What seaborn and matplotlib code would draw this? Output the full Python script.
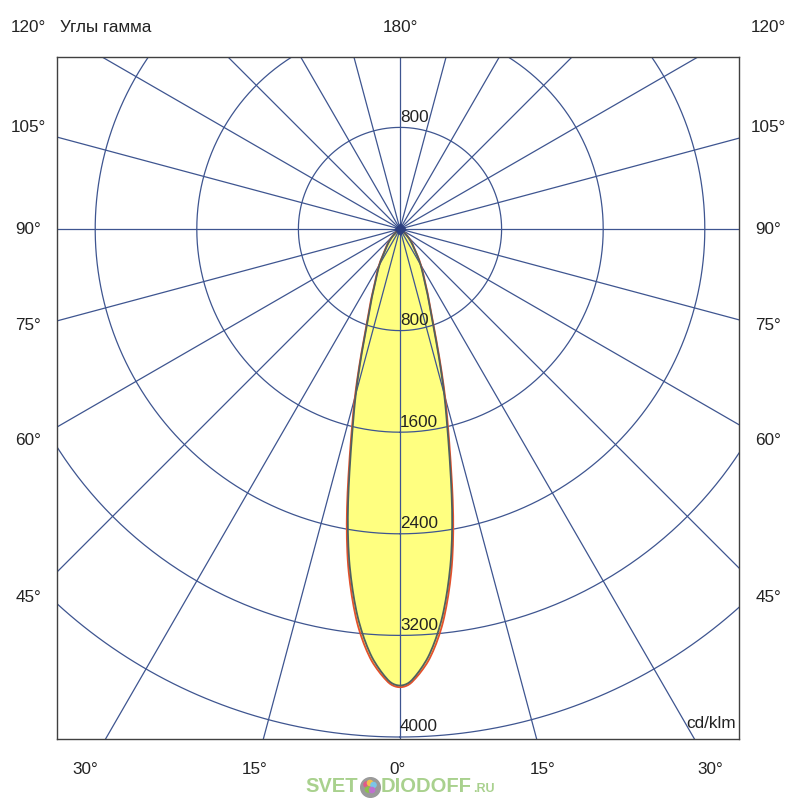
import numpy as np
import pandas as pd
import matplotlib
matplotlib.use("Agg")
import matplotlib.pyplot as plt
import seaborn as sns

# gamma angles (deg) and luminous intensity (cd/klm), two C-planes
gamma = [0, 2.5, 5, 7.5, 10, 12.5, 15, 17.5, 20, 25, 30, 35, 40, 45, 50, 55, 60, 90, 180]
intensity_c0 = [3650, 3520, 3300, 2930, 2440, 1790, 1370, 970, 720, 460, 330, 210, 150, 95, 50, 20, 0, 0, 0]
intensity_c90 = [3640, 3500, 3260, 2880, 2390, 1750, 1340, 950, 700, 450, 320, 200, 140, 90, 45, 15, 0, 0, 0]

ring_values = [800, 1600, 2400, 3200, 4000]
ring_labels = ["800", "1600", "2400", "3200", "4000"]
spoke_step = 15

side_labels = ["120°", "105°", "90°", "75°", "60°", "45°"]
side_y = [28, 127, 229, 326, 440, 598]
bottom_labels = ["30°", "15°", "0°", "15°", "30°"]
bottom_x = [85, 255, 398, 543, 710]

sns.set_theme(style="white")
plt.rcParams["font.family"] = ["Liberation Sans", "DejaVu Sans"]

fig = plt.figure(figsize=(8, 8), dpi=100)
ax = fig.add_axes([57 / 800, 61 / 800, 682 / 800, 682 / 800])

grid_color = "#3e5590"
fs = 12.3


def to_xy(g, r):
    g = np.radians(np.asarray(g, dtype=float))
    r = np.asarray(r, dtype=float)
    return r * np.sin(g), -r * np.cos(g)


def smooth_curve(vals):
    # mirror the half-plane data, resample finely and round off the corners
    g_full = np.concatenate([-np.array(gamma[::-1]), np.array(gamma[1:])])
    v_full = np.concatenate([vals[::-1], vals[1:]])
    g_fine = np.linspace(-180, 180, 1441)
    v_fine = np.interp(g_fine, g_full, v_full)
    k = np.ones(13) / 13
    v_pad = np.concatenate([v_fine[-7:-1], v_fine, v_fine[1:7]])
    v_s = np.convolve(v_pad, k, mode="same")[6:-6]
    return to_xy(g_fine, v_s)


x0, y0 = smooth_curve(intensity_c0)
x9, y9 = smooth_curve(intensity_c90)

ax.fill(x0, y0, color="#ffff80", zorder=1, lw=0)

# rings and spokes
t = np.linspace(0, 360, 721)
for rv in ring_values:
    xr, yr = to_xy(t, np.full_like(t, rv))
    ax.plot(xr, yr, color=grid_color, lw=0.9, zorder=2)
for a in range(0, 360, spoke_step):
    xs, ys = to_xy([a, a], [0, 8000])
    ax.plot(xs, ys, color=grid_color, lw=0.9, zorder=2)

df = pd.DataFrame({"x": np.concatenate([x0, x9]),
                   "y": np.concatenate([y0, y9]),
                   "plane": ["C0"] * len(x0) + ["C90"] * len(x9)})
sns.lineplot(data=df, x="x", y="y", hue="plane", sort=False, estimator=None,
             palette={"C0": "#e4502c", "C90": "#4f6060"}, lw=1.3,
             legend=False, ax=ax, zorder=3)

ax.scatter([0], [0], marker="D", s=30, color="#2c3f80", zorder=4)

# ring labels
off = 10 / 0.127
ax.text(0, 800 + off, "800", fontsize=fs, ha="left", va="center", zorder=5,
        color="#222222")
for rv, lab in zip(ring_values, ring_labels):
    ax.text(0, -rv + off, lab, fontsize=fs, ha="left", va="center", zorder=5,
            color="#222222")

ax.set_xlim(-343 / 0.127, 339 / 0.127)
ax.set_ylim(-510 / 0.127, 172 / 0.127)
ax.set_aspect("equal")
ax.set_xticks([])
ax.set_yticks([])
ax.set_xlabel("")
ax.set_ylabel("")
for s in ax.spines.values():
    s.set_color("#404040")
    s.set_linewidth(1.0)

ax.text(0.995, 0.012, "cd/klm", transform=ax.transAxes, ha="right",
        va="bottom", fontsize=fs, color="#222222")


def ftext(px, py, s, **kw):
    fig.text(px / 800, 1 - py / 800, s, fontsize=fs, color="#222222",
             va="center", **kw)


for lab, py in zip(side_labels, side_y):
    ftext(28, py, lab, ha="center")
    ftext(768, py, lab, ha="center")
ftext(60, 28, "Углы гамма", ha="left")
ftext(400, 28, "180°", ha="center")
for lab, px in zip(bottom_labels, bottom_x):
    ftext(px, 770, lab, ha="center")

# watermark
wm = "#a9d18e"
fig.text(358 / 800, 1 - 787 / 800, "SVET", color=wm, fontsize=14.5,
         fontweight="bold", ha="right", va="center")
fig.text(381 / 800, 1 - 787 / 800, "DIODOFF", color=wm, fontsize=14.5,
         fontweight="bold", ha="left", va="center")
fig.text(473 / 800, 1 - 789 / 800, ".RU", color=wm, fontsize=9,
         fontweight="bold", ha="left", va="center")
lax = fig.add_axes([360 / 800, 1 - 797 / 800, 20 / 800, 20 / 800])
lax.scatter([0], [0], s=200, color="#9a9a9a")
lax.scatter([-0.35, 0, 0.35, -0.2, 0.2], [0.25, 0.4, 0.2, -0.25, -0.3], s=14,
            color=["#e05a8a", "#f2c14e", "#7cc6e8", "#8bc34a", "#c070d0"])
lax.set_xlim(-1, 1)
lax.set_ylim(-1, 1)
lax.axis("off")

fig.savefig("out.png", dpi=100, facecolor="white")
